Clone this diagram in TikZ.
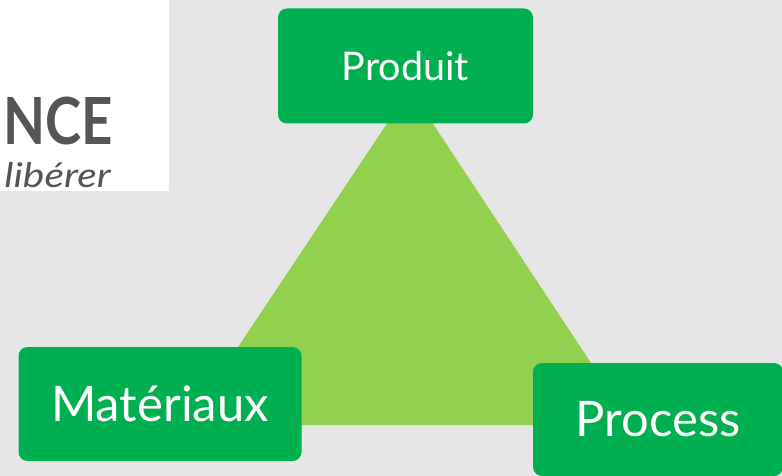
\documentclass[tikz,border=0pt]{standalone}
\usepackage{fontspec}
\setmainfont{Lato}
\definecolor{fond}{HTML}{E7E6E6}
\definecolor{vert}{HTML}{00B050}
\definecolor{clair}{HTML}{92D050}
\definecolor{gris}{HTML}{555555}
\begin{document}
\begin{tikzpicture}[x=1pt, y=-1pt, box/.style = {draw=none, fill=vert, rounded corners=9pt, text=white, inner sep=0pt, anchor=center}]
    \useasboundingbox (0,0) rectangle (782,476);
    \fill[fond] (0,0) rectangle (782,476);
    \fill[white] (0,0) rectangle (169,191);
    \node[text=gris, xscale=.84, inner sep=0pt, font=\fontsize{65}{65}\selectfont\bfseries, anchor=base east] (logo) at (113,145) {NCE};
    \node[text=gris, xscale=1.2, inner sep=0pt, font=\fontsize{34}{34}\selectfont\itshape, anchor=base east] (devise) at (111,187) {libérer};
    \coordinate (sommet) at (410,89);
    \coordinate (gauche) at (186,425);
    \coordinate (droite) at (632,425);
    \fill[clair] (sommet) -- (gauche) -- (droite) -- cycle;
    \node[box, minimum width=255pt, minimum height=115pt, font=\fontsize{39.5}{39.5}\selectfont] (produit) at (405.5,66) {Produit};
    \node[box, minimum width=283pt, minimum height=114pt, font=\fontsize{49}{49}\selectfont] (materiaux) at (160,404) {Matériaux};
    \node[box, minimum width=250pt, minimum height=113pt, font=\fontsize{49}{49}\selectfont] (process) at (658,419.5) {Process};
\end{tikzpicture}
\end{document}
